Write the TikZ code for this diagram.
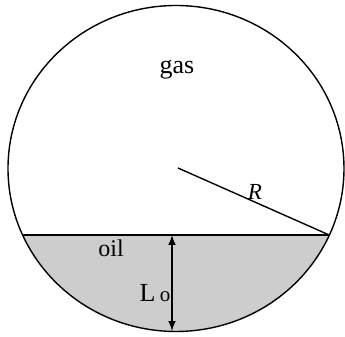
\documentclass[tikz,border=0pt]{standalone}
\usepackage{fontspec}
\setmainfont{Liberation Serif}
\usetikzlibrary{arrows}
\definecolor{oilgray}{RGB}{205, 205, 205}
\tikzstyle{wall} = [line width=0.7pt, draw=black]
\tikzstyle{oil} = [fill=oilgray]
\tikzstyle{dimarrow} = [line width=0.7pt,<->,>=latex]
\tikzstyle{label} = [inner sep=0pt, anchor=base]

\begin{document}
\begin{tikzpicture}[x=0.5pt, y=0.5pt]
        \useasboundingbox (0,0) rectangle (345,337);
        
        \coordinate (Centre) at (176,168.5);
        \coordinate (Hub) at (178,169);
        \coordinate (OilLeft) at (22.8,102);
        \coordinate (OilRight) at (329.2,102);
        \coordinate (LevelTop) at (172,102);
        \coordinate (LevelBottom) at (172,6);
        
        % oil segment
        \fill [oil] (OilLeft) arc[start angle=204.27, end angle=335.73, x radius=168, y radius=163] -- cycle;
        \draw [wall] (OilLeft) -- (OilRight);
        
        % vessel
        \draw [wall] (Centre) ellipse [x radius=168, y radius=163];
        
        % radius
        \draw [wall] (Hub) -- (OilRight);
        
        % oil level
        \draw [dimarrow] (LevelTop) -- (LevelBottom);
        
        \node (Gas) [label, font=\fontsize{13}{15}\selectfont] at (177,263) {gas};
        \node (Oil) [label, font=\fontsize{12}{14}\selectfont] at (111,80) {oil};
        \node (Radius) [label, font=\fontsize{11.5}{14}\selectfont\itshape] at (255,137) {R};
        \node (Level) [label, font=\fontsize{13}{15}\selectfont] at (155,35) {L\,{\fontsize{10.5}{12}\selectfont o}};
        
\end{tikzpicture}
\end{document}
